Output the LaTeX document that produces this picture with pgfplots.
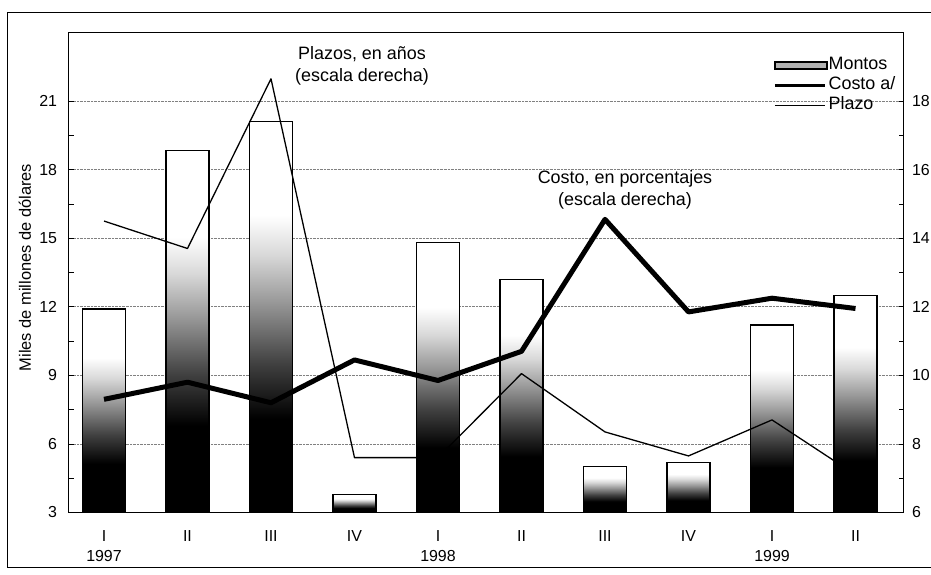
\documentclass[border=0pt]{standalone}
\usepackage{fontspec}
\setmainfont{Liberation Sans}
\usepackage{pgfplots}
\usepackage{pgfplotstable}
\pgfplotsset{compat=1.18}

% Bars fade from black at the base to white at the top
\pgfdeclareverticalshading{montos}{100bp}{color(0bp)=(black); color(37bp)=(black); color(44bp)=(black!75); color(52bp)=(black!40); color(58bp)=(black!15); color(63bp)=(white); color(100bp)=(white)}

% Quarterly data: amounts (left axis), cost and term (right axis)
\pgfplotstableread{
q montos costo plazo
0 11.9 9.3 14.5
1 18.85 9.8 13.7
2 20.1 9.2 18.65
3 3.8 10.45 7.6
4 14.8 9.85 7.6
5 13.2 10.7 10.05
6 5.0 14.55 8.35
7 5.2 11.85 7.65
8 11.2 12.25 8.7
9 12.5 11.95 7.1
}\datos

\pgfplotsset{
  base/.style={at={(68.5bp,62.5bp)}, anchor=south west, scale only axis,
    width=835bp, height=480bp, xmin=-0.425, xmax=9.575,
    /pgf/number format/assume math mode=true,
    ticklabel style={font=\fontsize{16}{19}\selectfont},
    tick style={black, line width=0.8bp},
    major tick length=5bp, minor tick length=5bp, tick align=inside,
    minor y tick num=1,
    axis line style={line width=1.5bp}}
}

\begin{document}
\begin{tikzpicture}[x=1bp,y=1bp]
\useasboundingbox (0,0) rectangle (931,575);
\draw[line width=1bp] (7,7) rectangle (945,562);

% Amounts: the left scale starts at 3, so bars rise from that level
\begin{axis}[base,
  ymin=0, ymax=21, ytick={0,3,...,18}, yticklabels={3,6,9,12,15,18,21},
  ytick pos=left,
  xtick={0,...,9},
  xticklabels={{I\\1997},II,III,IV,{I\\1998},II,III,IV,{I\\1999},II},
  xticklabel style={align=center, font=\fontsize{16}{20}\selectfont, yshift=-15bp},
  xtick style={draw=none},
  ymajorgrids, grid style={densely dotted, gray, line width=0.6bp},
  yticklabel style={xshift=-8bp}]
\pgfplotsinvokeforeach{0,...,9}{
  \addplot[ybar, bar width=0.515, bar shift=0pt, draw=black, line width=1.3bp, shading=montos]
    table[x=q, y expr=\thisrow{montos}-3, restrict expr to domain={\coordindex}{#1:#1}] {\datos};
}
\end{axis}

% Cost and term on the right scale
\begin{axis}[base, ymin=6, ymax=20, ytick={6,8,...,18},
  axis y line*=right, axis x line=none,
  yticklabel style={xshift=5bp},
  legend style={at={(0.84,0.955)}, anchor=north west, draw=none, fill=none,
    font=\fontsize{18}{19}\selectfont, row sep=2bp,
    nodes={inner sep=1bp, text height=12bp, text depth=4bp}},
  legend cell align=left]
\addlegendimage{legend image code/.code={\draw[black, line width=1.5bp, fill=black!30] (0bp,-3.5bp) rectangle (52bp,3.5bp);}}
\addplot[black, line width=5bp, line join=round,
  legend image code/.code={\draw[black, line width=3.5bp] (0bp,0bp) -- (50bp,0bp);}]
  table[x=q, y=costo] {\datos};
\addplot[black, line width=1.3bp, line join=round,
  legend image code/.code={\draw[black, line width=1.3bp] (0bp,0bp) -- (50bp,0bp);}]
  table[x=q, y=plazo] {\datos};
\legend{Montos, Costo a/, Plazo}
\end{axis}

\node[rotate=90, font=\fontsize{16.5}{20}\selectfont] at (25,307.5) {Miles de millones de dólares};
\node[align=center, font=\fontsize{18}{22}\selectfont] at (362,509) {Plazos, en años\\(escala derecha)};
\node[align=center, font=\fontsize{18}{22}\selectfont] at (625,385) {Costo, en porcentajes\\(escala derecha)};
\end{tikzpicture}
\end{document}
